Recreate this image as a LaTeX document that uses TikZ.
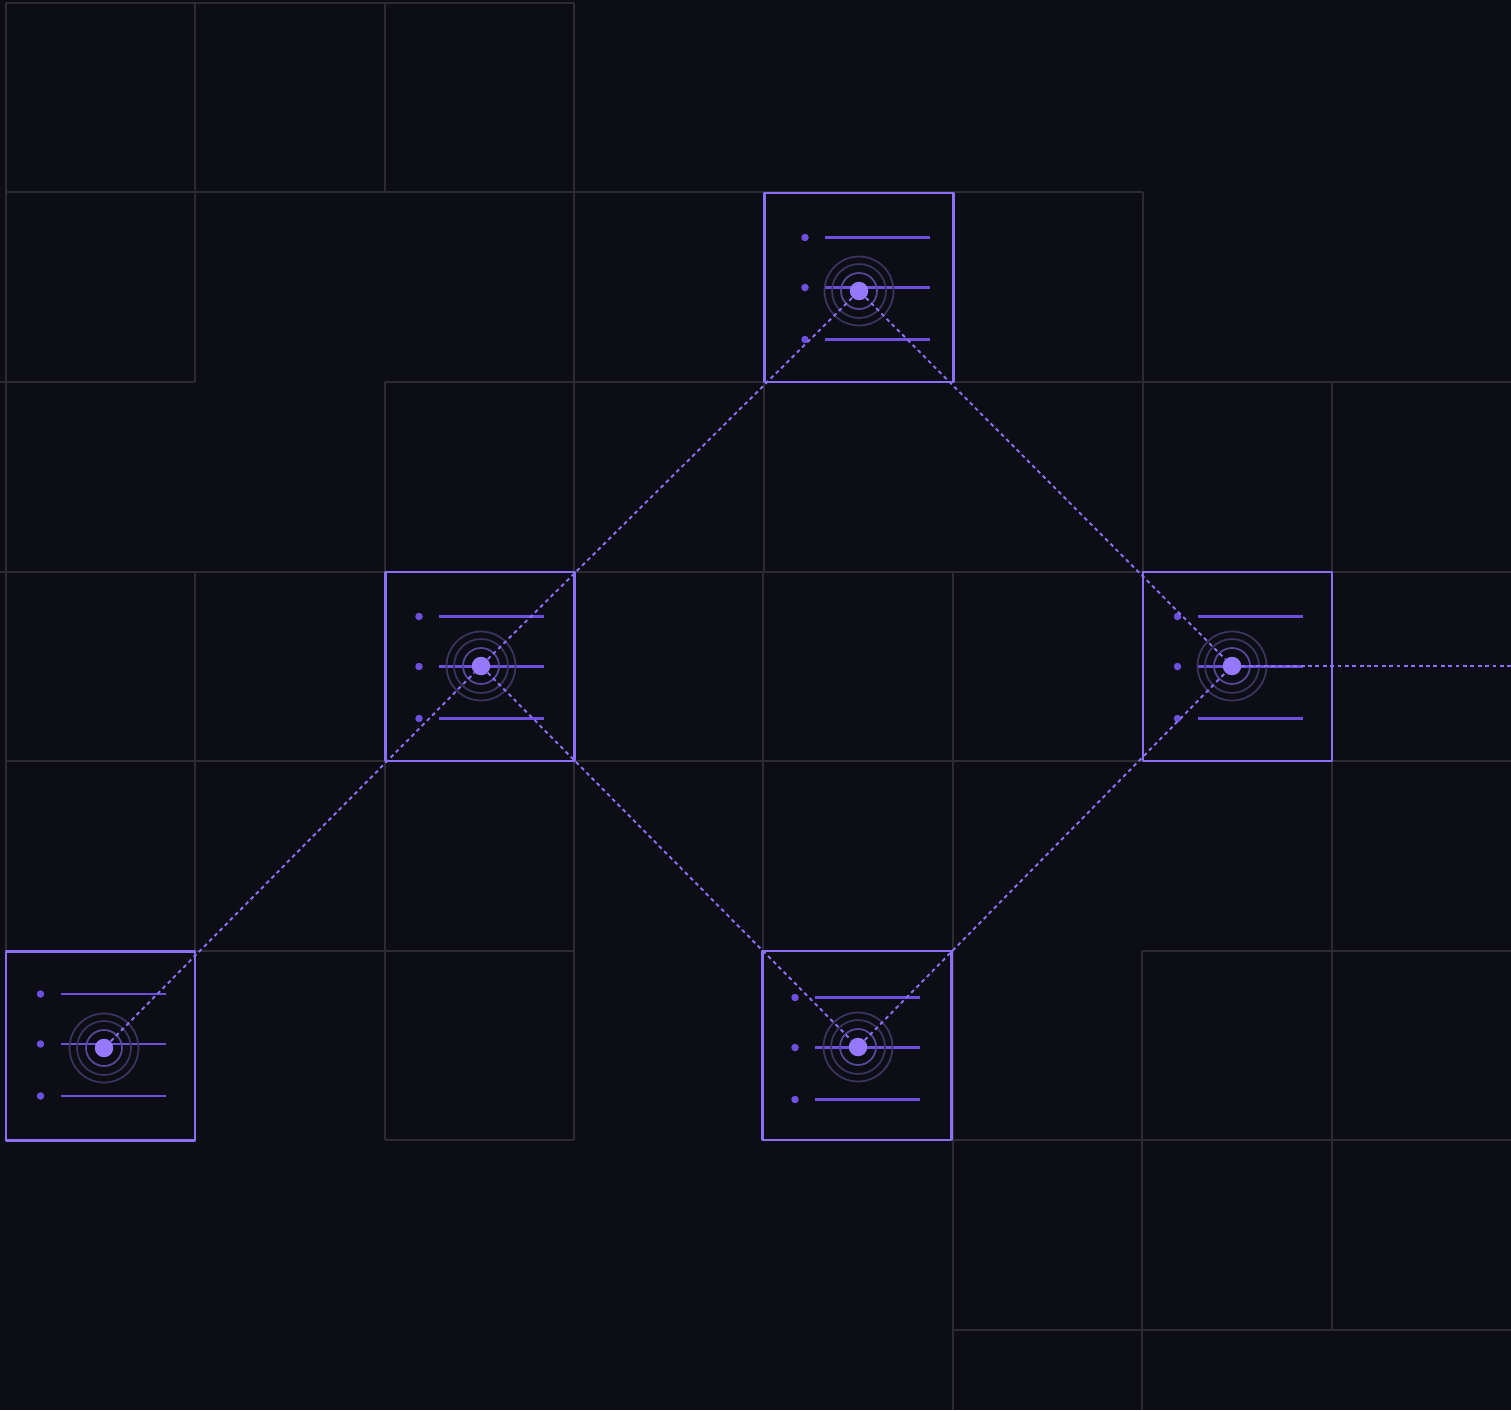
\documentclass[tikz,border=0pt]{standalone}
\usetikzlibrary{positioning}
\definecolor{bg}{HTML}{0D0E15}
\definecolor{gridgrey}{HTML}{2B2B30}
\definecolor{boxviolet}{HTML}{8B6FF6}
\definecolor{hubfill}{HTML}{9479FF}
\definecolor{itemcol}{HTML}{6E50E0}
\definecolor{ringin}{HTML}{554899}
\definecolor{ringout}{HTML}{3A345F}
\tikzset{
  every picture/.style={line join=round},
  grid line/.style={gridgrey, line width=1.1pt},
  server/.style={draw=boxviolet, line width=1.3pt, minimum size=3.78cm, inner sep=0pt},
  item dot/.style={circle, fill=itemcol, inner sep=0pt, minimum size=0.15cm},
  item line/.style={itemcol, line width=1.2pt},
  ring inner/.style={ringin, line width=1pt},
  ring outer/.style={ringout, line width=1pt},
  hub/.style={circle, fill=hubfill, inner sep=0pt, minimum size=0.37cm},
  link/.style={boxviolet, line width=1.1pt, dash pattern=on 2.2pt off 2pt},
}

\begin{document}
\begin{tikzpicture}[x=0.02cm,y=-0.02cm]
\path[fill=bg,use as bounding box](0,0) rectangle (1511,1410);
% background tiles
\draw[grid line]
  (6,3)--(574,3)
  (6,192)--(1143,192)
  (0,382)--(195,382) (385,382)--(1511,382)
  (0,572)--(1511,572)
  (6,761)--(1511,761)
  (195,951)--(574,951) (1142,951)--(1511,951)
  (385,1140)--(574,1140) (952,1140)--(1511,1140)
  (952,1330)--(1511,1330)
  (6,3)--(6,951)
  (195,3)--(195,382) (195,572)--(195,951)
  (385,3)--(385,192) (385,382)--(385,1140)
  (574,3)--(574,1140)
  (764,192)--(764,572) (763,572)--(763,951)
  (953,572)--(953,1410)
  (1143,192)--(1143,572) (1142,951)--(1142,1410)
  (1332,382)--(1332,1330);
% servers
\foreach \n/\cx/\cy/\hx/\hy/\ix/\iy in {top/859/287.5/0/3.5/6/0, left/480/666.5/1/-0.5/-1/0, right/1237.5/666.5/-5.5/-0.5/0/0, low/100.5/1046/3.5/2/0/-2, bottom/857/1045.5/1/1.5/-2/2}{
  \node[server] (srv\n) at (\cx,\cy) {};
  \begin{scope}[shift={(\cx,\cy)}]
    \foreach \r in {-50,0,52}{
      \node[item dot] at (-60+\ix,\r+\iy) {};
      \draw[item line] (-40+\ix,\r+\iy)--(65+\ix,\r+\iy);
    }
    \draw[ring outer] (\hx,\hy) circle[radius=0.69cm] (\hx,\hy) circle[radius=0.54cm];
    \draw[ring inner] (\hx,\hy) circle[radius=0.36cm];
    \node[hub] (hub\n) at (\hx,\hy) {};
  \end{scope}
}
\coordinate (exit) at (1511,666);
% links
\draw[link] (hublow)--(hubleft);
\draw[link] (hubleft)--(hubtop);
\draw[link] (hubtop)--(hubright);
\draw[link] (hubleft)--(hubbottom);
\draw[link] (hubbottom)--(hubright);
\draw[link] (hubright)--(exit);
\end{tikzpicture}
\end{document}
